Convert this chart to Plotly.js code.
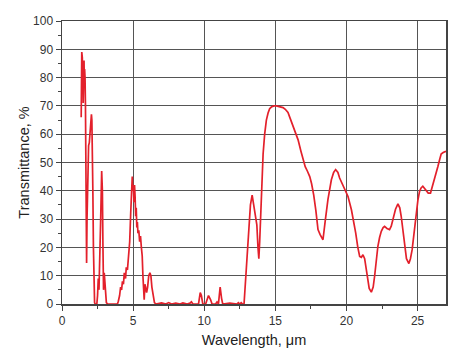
<!DOCTYPE html>
<html>
<head>
<meta charset="utf-8">
<script src="https://cdn.plot.ly/plotly-3.0.1.min.js"></script>
<style>html,body{margin:0;padding:0;background:#fff;}#chart{width:463px;height:358px;}</style>
</head>
<body>
<div id="chart"></div>
<script>
// Wavelength (µm)
const wavelength = [
  1.35,1.37,1.39,1.41,1.43,1.45,1.47,1.49,1.51,1.53,1.55,1.57,1.59,1.62,1.65,1.68,1.71,1.73,1.76,1.79,
  1.83,1.87,1.92,1.97,2.02,2.07,2.10,2.13,2.17,2.21,2.25,2.29,2.33,2.45,2.50,2.55,2.60,2.65,2.72,2.79,
  2.84,2.88,2.92,2.97,3.02,3.07,3.12,3.20,3.90,3.96,4.05,4.12,4.19,4.25,4.32,4.38,4.42,4.47,4.52,4.60,
  4.68,4.76,4.83,4.90,4.94,4.98,5.02,5.06,5.10,5.14,5.18,5.22,5.26,5.30,5.34,5.40,5.46,5.52,5.58,5.64,
  5.69,5.74,5.78,5.83,5.88,5.95,6.02,6.10,6.18,6.25,6.32,6.42,6.50,6.60,7.00,7.30,7.50,7.70,8.00,8.30,
  8.50,8.80,9.00,9.10,9.20,9.60,9.72,9.80,9.90,10.10,10.30,10.45,10.55,10.80,10.90,11.00,11.12,11.22,11.30,11.80,
  12.30,12.40,12.50,12.60,12.70,12.80,12.90,12.97,13.05,13.15,13.25,13.37,13.47,13.60,13.70,13.78,13.84,13.90,13.97,14.05,
  14.14,14.25,14.37,14.49,14.60,14.72,14.90,15.07,15.30,15.54,15.70,15.89,16.05,16.24,16.40,16.60,16.80,16.95,17.10,17.25,
  17.42,17.55,17.70,17.85,18.00,18.15,18.35,18.50,18.70,18.94,19.10,19.24,19.40,19.52,19.76,19.95,20.11,20.35,20.50,20.65,
  20.80,20.93,21.05,21.16,21.28,21.40,21.50,21.60,21.75,21.88,21.98,22.10,22.21,22.33,22.45,22.58,22.68,22.85,23.03,23.15,
  23.27,23.45,23.62,23.75,23.85,23.97,24.09,24.22,24.39,24.50,24.62,24.75,24.91,25.02,25.14,25.25,25.37,25.50,25.60,25.75,
  25.91,26.05,26.19,26.30,26.43,26.55,26.66,26.80,27.00
];
// Transmittance (%)
const transmittance = [
  66,80,89,84,87,76,82,71,85,80,86,78,83,80,70,40,20,14.5,30,42,
  50,56,57,60,64,67,65,58,40,20,5,0.5,0,0,3,9,5,13,30,47,
  40,20,5,11,8,3,0.5,0,0,1,3,6,5,8,7,11,10,9,13,12,
  17,22,32,41,45,40,42,36,42,38,31,34,27,29,25,26,22,24,20,17,
  10,3,1.5,7,6,4,6,10,11,10,6,2,0.5,0,0.4,0,0.5,0,0.3,0,
  0.4,0,0.3,0.8,0,0,4,3,0,0,3,1.5,0,0,0.7,0,6,2,0,0.3,
  0,0.5,0,0.5,0,0,8,12,20,29,35,38.5,35,31,28,20,16,22,31,43,
  53,60,65,67.5,69,69.6,70,70,69.8,69.4,68.8,67.7,65.5,62.8,60.5,58,54,51,48.5,47,
  45,42.5,38.5,33,26.3,24.5,22.7,29,37,43.9,46.5,47.5,46.5,44.5,41.6,39.5,38,33.3,29.5,25.1,
  20,16.8,16.5,17.4,16,12,8.5,5.5,4.2,6,9.8,15.5,20.4,23.5,25.7,27,27.4,26.7,26.3,27.5,
  29.8,33.5,35.4,34,31,26,20.4,16,14.3,16,19.2,25,32.2,36.5,39.8,41,41.6,40.8,39.9,39.2,
  39.2,41.5,44.5,46.5,48.6,51,53,53.5,54
];
const xTickVals = [0,5,10,15,20,25];
const yTickVals = [0,10,20,30,40,50,60,70,80,90,100];

const trace = {
  x: wavelength, y: transmittance, type: 'scatter', mode: 'lines',
  line: {color: '#e3202b', width: 1.7}, hoverinfo: 'skip'
};
const axisFont = {family: 'Liberation Sans, Arial, sans-serif', size: 12, color: '#333'};
const titleFont = {family: 'Liberation Sans, Arial, sans-serif', size: 14.5, color: '#222'};
const layout = {
  width: 463, height: 358,
  margin: {l: 62, r: 17, t: 21, b: 54},
  paper_bgcolor: '#fff', plot_bgcolor: '#fff',
  showlegend: false,
  xaxis: {
    range: [0, 27], tickvals: xTickVals, ticktext: xTickVals.map(String),
    showgrid: true, gridcolor: '#555', gridwidth: 1,
    showline: true, linecolor: '#444', linewidth: 1.5, mirror: true,
    ticks: 'outside', ticklen: 5, tickcolor: '#444', tickwidth: 1,
    minor: {dtick: 2.5, ticks: 'outside', ticklen: 3, tickcolor: '#444', showgrid: false},
    zeroline: false, tickfont: axisFont,
    title: {text: 'Wavelength, μm', font: titleFont, standoff: 8}
  },
  yaxis: {
    range: [0, 100], tickvals: yTickVals, ticktext: yTickVals.map(String),
    showgrid: true, gridcolor: '#555', gridwidth: 1,
    showline: true, linecolor: '#444', linewidth: 1.5, mirror: true,
    ticks: 'outside', ticklen: 5, tickcolor: '#444', tickwidth: 1,
    minor: {dtick: 5, ticks: 'outside', ticklen: 3, tickcolor: '#444', showgrid: false},
    zeroline: false, tickfont: axisFont,
    title: {text: 'Transmittance, %', font: titleFont, standoff: 0}
  }
};
Plotly.newPlot('chart', [trace], layout, {staticPlot: true, displayModeBar: false});
</script>
</body>
</html>
